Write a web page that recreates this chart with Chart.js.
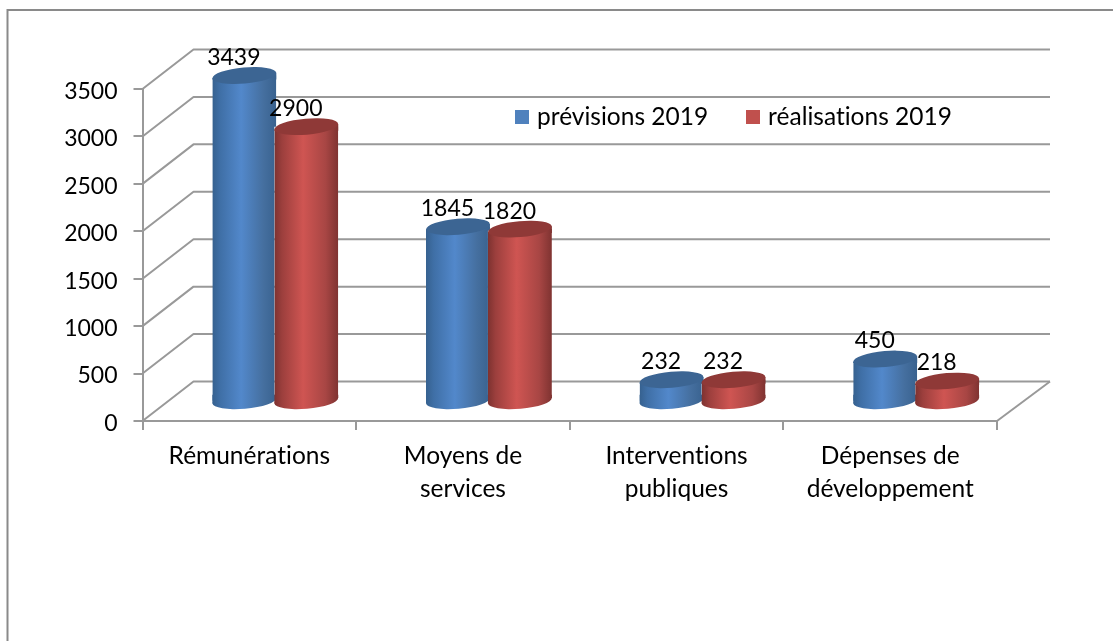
<!DOCTYPE html>
<html><head><meta charset="utf-8">
<style>html,body{margin:0;padding:0;background:#fff}canvas{display:block}</style>
<script src="https://cdn.jsdelivr.net/npm/chart.js@4"></script>
</head><body><canvas id="c" width="1113" height="641"></canvas>
<script>
const categories = [['Rémunérations'], ['Moyens de', 'services'], ['Interventions', 'publiques'], ['Dépenses de', 'développement']];
const previsions = [3439, 1845, 232, 450];
const realisations = [2900, 1820, 232, 218];
const seriesNames = ['prévisions 2019', 'réalisations 2019'];
const yTicks = [0, 500, 1000, 1500, 2000, 2500, 3000, 3500];

const FONT = 'Lato, Carlito, sans-serif', FS = 23, FT = 24.5;
const GRID = '#999999';
const DX = 51, DY = 39.5, DXR = 53;
const SHIFT_X = 26, SHIFT_Y = 19.25;
const TILT = -5 * Math.PI / 180, RY = 8;
const BLUE = '#4F81BD', RED = '#C0504D';
const STOPS = [
  [[0, '#36618F'], [.12, '#3F6FA6'], [.45, '#5288CB'], [.8, '#456F9F'], [1, '#39628F']],
  [[0, '#7D3230'], [.12, '#9C3F3D'], [.45, '#CF5552'], [.8, '#A84644'], [1, '#7F3331']]
];
const TOPS = ['#3C6593', '#8F3937'];

function swatch(color) {
  const s = document.createElement('canvas'); s.width = 14; s.height = 14;
  const g = s.getContext('2d'); g.fillStyle = color; g.fillRect(0, 0, 14, 14); return s;
}
const swatches = [swatch(BLUE), swatch(RED)];

function gradient(ctx, el, ds) {
  const w = el.width / 2, g = ctx.createLinearGradient(el.x - w, 0, el.x + w, 0);
  STOPS[ds].forEach(s => g.addColorStop(s[0], s[1]));
  return g;
}
function ell(ctx, x, y, a, fill) {
  ctx.beginPath(); ctx.ellipse(x, y, a, RY, TILT, 0, Math.PI * 2);
  ctx.fillStyle = fill; ctx.fill();
}
const H = Math.sin(TILT) * 32;

const scene = {
  id: 'scene',
  beforeLayout(chart) {
    const lg = chart.legend;
    if (lg && !lg._patched) {
      const f = lg.fit; lg.fit = function () { f.call(this); this.height = 0; }; lg._patched = true;
    }
  },
  afterLayout(chart) {
    const lg = chart.legend;
    lg.left = 477; lg.right = 1113; lg.top = 62.5; lg.bottom = 170;
  },
  beforeDraw(chart) {
    const c = chart.ctx;
    c.textRendering = 'optimizeSpeed';
    c.save();
    c.strokeStyle = '#8A8A8A'; c.lineWidth = 2;
    c.beginPath(); c.moveTo(7.5, 641); c.lineTo(7.5, 10); c.lineTo(1113, 10); c.stroke();
    c.restore();
  },
  beforeDatasetsDraw(chart) {
    const c = chart.ctx, y = chart.scales.y, a = chart.chartArea;
    c.save();
    c.strokeStyle = GRID; c.lineWidth = 2; c.lineJoin = 'round';
    yTicks.forEach(v => {
      const p = y.getPixelForValue(v);
      c.beginPath(); c.moveTo(a.left, p); c.lineTo(a.left + DX, p - DY); c.lineTo(a.right + DXR, p - DY); c.stroke();
    });
    const p0 = y.getPixelForValue(0);
    c.beginPath(); c.moveTo(a.right, p0); c.lineTo(a.right + DXR, p0 - DY); c.stroke();
    c.restore();

    c.save();
    c.translate(SHIFT_X, -SHIFT_Y);
    [0, 1].forEach(ds => chart.getDatasetMeta(ds).data.forEach(el => {
      const g = gradient(c, el, ds), w = el.width / 2;
      ell(c, el.x, el.base, w, g);
      c.beginPath();
      c.moveTo(el.x - w, el.base - 6); c.lineTo(el.x + w, el.base - 6);
      c.lineTo(el.x + w, el.base + H); c.lineTo(el.x - w, el.base - H); c.closePath();
      c.fillStyle = g; c.fill();
    }));
  },
  beforeDatasetDraw(chart, args) {
    const c = chart.ctx, ds = args.index, m = args.meta;
    c.save();
    c.beginPath();
    m.data.forEach((el, i) => {
      const w = el.width / 2, l = el.x - w, r = el.x + w;
      el.options = Object.assign({}, el.options, { backgroundColor: gradient(c, el, ds) });
      c.moveTo(l, el.y - H);
      c.lineTo(r, el.y + H);
      if (ds === 0) {
        const other = chart.getDatasetMeta(1).data[i];
        const ry = Math.max(other.y, el.y), notch = other.x - other.width / 2;
        c.lineTo(r, ry); c.lineTo(notch, ry); c.lineTo(notch, el.base - H / 2);
      } else {
        c.lineTo(r, el.base + H);
      }
      c.lineTo(l, el.base - H);
      c.closePath();
    });
    c.clip();
  },
  afterDatasetDraw(chart) { chart.ctx.restore(); },
  afterDatasetsDraw(chart) {
    const c = chart.ctx;
    [0, 1].forEach(ds => chart.getDatasetMeta(ds).data.forEach(el => {
      const g = gradient(c, el, ds), w = el.width / 2;
      c.beginPath();
      c.moveTo(el.x - w, el.y - H); c.lineTo(el.x + w, el.y + H);
      c.lineTo(el.x + w, el.y + 4); c.lineTo(el.x - w, el.y + 4); c.closePath();
      c.fillStyle = g; c.fill();
      ell(c, el.x, el.y, w, TOPS[ds]);
    }));
    c.fillStyle = '#000'; c.font = FS + 'px ' + FONT; c.textAlign = 'center'; c.textBaseline = 'middle';
    [0, 1].forEach(ds => {
      const vals = chart.data.datasets[ds].data;
      chart.getDatasetMeta(ds).data.forEach((el, i) => {
        c.fillText(String(vals[i]), el.x - 10.5, el.y - 18);
      });
    });
    c.restore();
  }
};

new Chart(document.getElementById('c'), {
  type: 'bar',
  data: {
    labels: categories,
    datasets: [
      { label: seriesNames[0], data: previsions, backgroundColor: BLUE, borderWidth: 0 },
      { label: seriesNames[1], data: realisations, backgroundColor: RED, borderWidth: 0 }
    ]
  },
  options: {
    responsive: false, animation: false, events: [],
    categoryPercentage: 0.58, barPercentage: 1.032,
    layout: { padding: { left: 60.5, right: 116, top: 89, bottom: 120 } },
    plugins: {
      tooltip: { enabled: false },
      legend: {
        position: 'top', align: 'start',
        labels: {
          usePointStyle: true, boxWidth: 5.5, boxHeight: 14, padding: 42.25, color: '#000',
          font: { family: FONT, size: FT },
          generateLabels: ch => Chart.defaults.plugins.legend.labels.generateLabels(ch)
            .map((l, i) => Object.assign(l, { pointStyle: swatches[i] }))
        }
      }
    },
    scales: {
      x: {
        afterFit: s => { s.height = 100; },
        grid: { display: true, drawOnChartArea: false, drawTicks: true, tickLength: 9, color: GRID, lineWidth: 2 },
        border: { display: true, color: GRID, width: 2 },
        ticks: { color: '#000', maxRotation: 0, autoSkip: false, padding: 10.5, font: { family: FONT, size: FT, lineHeight: 1.31 } }
      },
      y: {
        min: 0, max: 3500,
        afterFit: s => { s.width = 82; },
        grid: { display: true, drawOnChartArea: false, drawTicks: true, tickLength: 9, color: GRID, lineWidth: 2 },
        border: { display: true, color: GRID, width: 2 },
        afterBuildTicks: s => { s.ticks = yTicks.map(v => ({ value: v })); },
        ticks: { color: '#000', padding: 16, labelOffset: 2.5, callback: v => String(v), font: { family: FONT, size: FS } }
      }
    }
  },
  plugins: [scene]
});
</script></body></html>
